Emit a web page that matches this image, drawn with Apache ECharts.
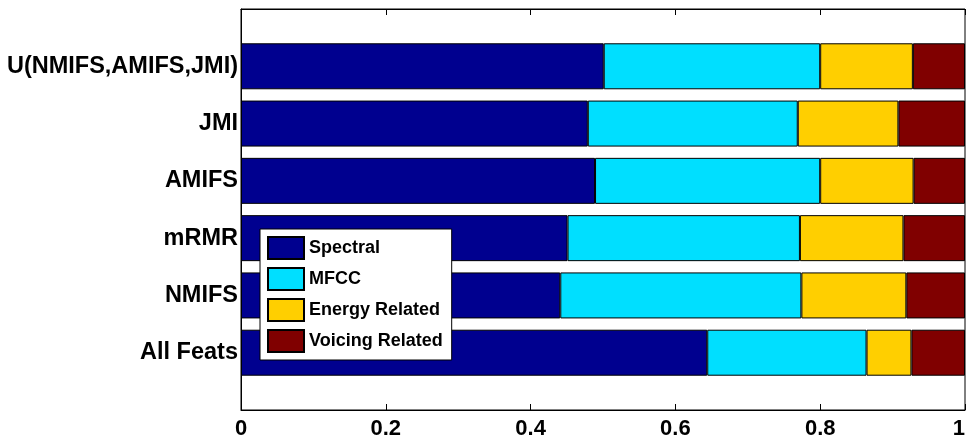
<!DOCTYPE html>
<html>
<head>
<meta charset="utf-8">
<script src="https://cdn.jsdelivr.net/npm/echarts@6/dist/echarts.min.js"></script>
<style>
  html, body { margin: 0; padding: 0; background: #fff; }
  #chart { width: 967px; height: 441px; }
</style>
</head>
<body>
<div id="chart"></div>
<script>
  // bottom to top, as in the figure
  var categories = ["All Feats", "NMIFS", "mRMR", "AMIFS", "JMI", "U(NMIFS,AMIFS,JMI)"];
  var spectral = [0.644, 0.441, 0.451, 0.489, 0.479, 0.501];
  var mfcc     = [0.220, 0.333, 0.321, 0.311, 0.290, 0.299];
  var energy   = [0.062, 0.145, 0.143, 0.129, 0.139, 0.128];
  var voicing  = [0.074, 0.081, 0.085, 0.071, 0.092, 0.072];
  var xTicks = [0, 0.2, 0.4, 0.6, 0.8, 1];

  var names = ["Spectral", "MFCC", "Energy Related", "Voicing Related"];
  var colors = ["#00008f", "#00dfff", "#ffcf00", "#800000"];
  var groups = [spectral, mfcc, energy, voicing];

  // pad the axis so the categories sit at 1..6 of a 0..7 range
  var yData = [""].concat(categories, [""]);
  function pad(arr) { return ["-"].concat(arr, ["-"]); }

  var series = groups.map(function (g, i) {
    return {
      name: names[i],
      type: "bar",
      stack: "total",
      barWidth: 46,
      data: pad(g),
      itemStyle: { color: colors[i], borderColor: "#000", borderWidth: 1 },
      emphasis: { disabled: true }
    };
  });

  var font = "Liberation Sans, Arial, sans-serif";
  var chart = echarts.init(document.getElementById("chart"));
  chart.setOption({
    animation: false,
    textStyle: { fontFamily: font },
    grid: { left: 241, right: 2, top: 9, bottom: 31, outerBoundsMode: "none", containLabel: false,
      show: true, borderColor: "#000", borderWidth: 1, backgroundColor: "#fff" },
    legend: {
      orient: "vertical",
      left: 260, top: 229,
      data: names,
      icon: "rect",
      itemWidth: 36, itemHeight: 22, itemGap: 7,
      padding: [7, 9, 7, 7],
      backgroundColor: "#fff",
      borderColor: "#000", borderWidth: 1,
      textStyle: { fontFamily: font, fontWeight: "bold", fontSize: 18, color: "#000" }
    },
    xAxis: [{
      type: "value", min: 0, max: 1, interval: 0.2, position: "bottom",
      axisLine: { show: true, lineStyle: { color: "#000" } },
      axisTick: { show: true, inside: true, length: 6, lineStyle: { color: "#000" } },
      splitLine: { show: false },
      axisLabel: { margin: 8, color: "#000", fontFamily: font, fontWeight: "bold", fontSize: 22,
        alignMaxLabel: "right",
        formatter: function (v) { return xTicks.indexOf(v) >= 0 ? String(v) : ""; } }
    }, {
      type: "value", min: 0, max: 1, interval: 0.2, position: "top",
      axisLine: { show: true, lineStyle: { color: "#000" } },
      axisTick: { show: true, inside: true, length: 6, lineStyle: { color: "#000" } },
      splitLine: { show: false },
      axisLabel: { show: false }
    }],
    yAxis: {
      type: "category", data: yData, boundaryGap: false,
      axisLine: { show: true, lineStyle: { color: "#000" } },
      axisTick: { show: false },
      splitLine: { show: false },
      axisLabel: { margin: 3, color: "#000", fontFamily: font, fontWeight: "bold", fontSize: 23.5, interval: 0 }
    },
    series: series
  });
</script>
</body>
</html>
